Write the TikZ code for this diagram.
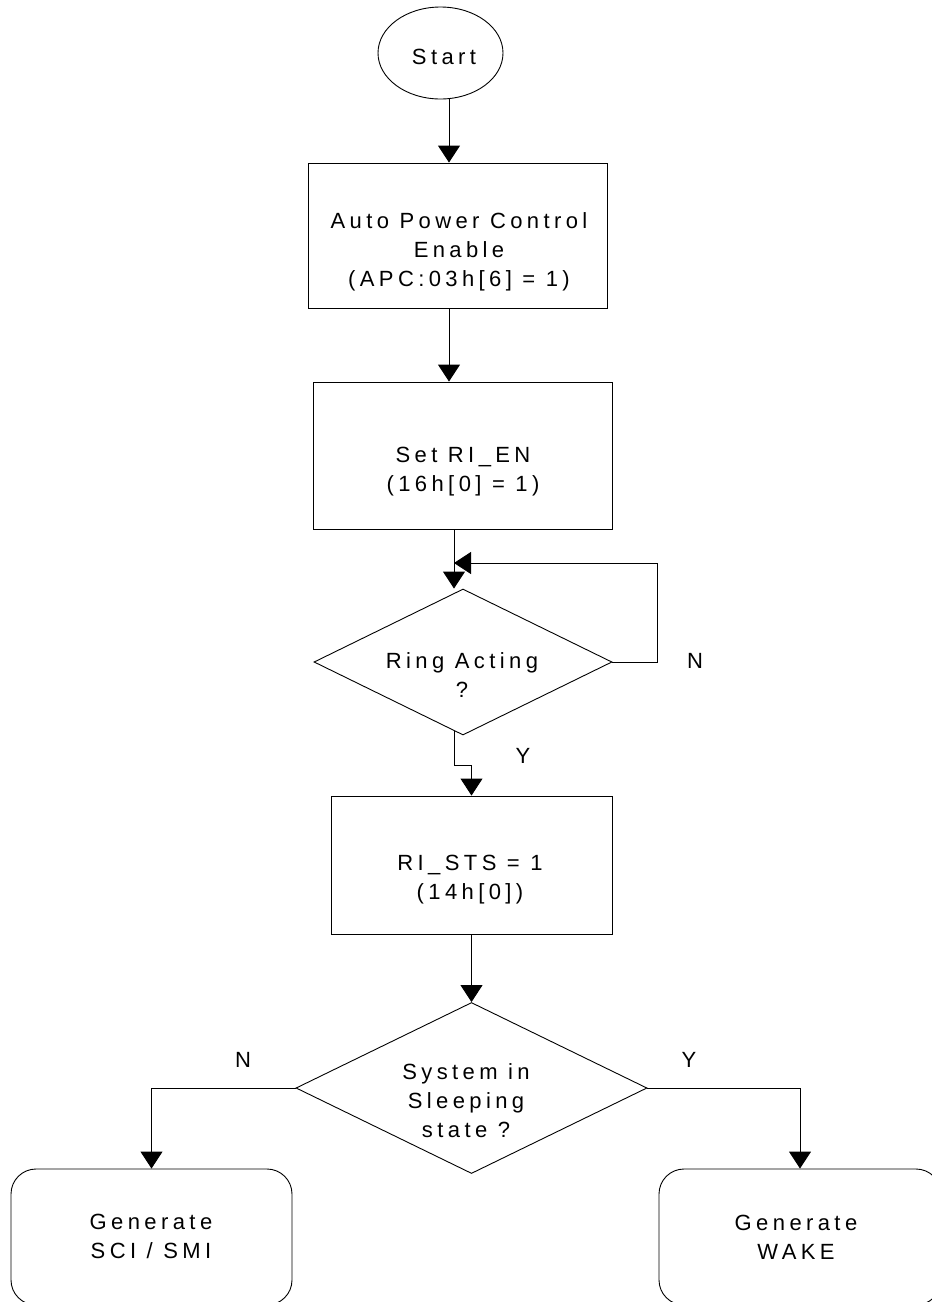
\documentclass[tikz,border=0pt]{standalone}
\usepackage{fontspec}
\setmainfont{Liberation Sans}[LetterSpace=20]
\usetikzlibrary{shapes.geometric,arrows.meta}
\begin{document}
\begin{tikzpicture}[x=1pt,y=-1pt,
  shp/.style={draw=black, line width=0.9pt, inner sep=0pt},
  rect/.style={shp, rectangle},
  rrect/.style={shp, rectangle, rounded corners=25pt},
  dia/.style={shp, diamond},
  txt/.style={align=center, font=\fontsize{22}{29}\selectfont, inner sep=0pt},
  arr/.style={draw=black, line width=0.9pt, -{Triangle[width=22pt,length=17pt]}}]
\useasboundingbox (0,0) rectangle (932,1302);
\clip (0,0) rectangle (932,1302);
\fill[white] (0,0) rectangle (932,1302);

% shapes
\node[shp, ellipse, minimum width=125pt, minimum height=92pt] (start) at (440.5,53) {};
\node[rect, minimum width=299pt, minimum height=145pt] (b1) at (457.5,235.5) {};
\node[rect, minimum width=299pt, minimum height=147pt] (b2) at (462.5,455.5) {};
\node[dia, minimum width=298pt, minimum height=146pt] (d1) at (463,662) {};
\node[rect, minimum width=281pt, minimum height=138pt] (b3) at (471.5,865) {};
\node[dia, minimum width=351pt, minimum height=171pt] (d2) at (471.5,1088) {};
\node[rrect, minimum width=281pt, minimum height=136pt] (bl) at (151.5,1237) {};
\node[rrect, minimum width=282pt, minimum height=136pt] (br) at (800,1237) {};

% texts
\node[txt] (startt) at (444,57) {Start};
\node[txt] (b1t) at (459,252) {Auto Power Control\\Enable\\(APC:03h[6] = 1)};
\node[txt] (b2t) at (463,472) {Set RI\_EN\\(16h[0] = 1)};
\node[txt] (d1t) at (462,675.5) {Ring Acting\\?};
\node[txt] (b3t) at (470,879.5) {RI\_STS = 1\\(14h[0])};
\node[txt] (d2t) at (466,1101) {System in\\Sleeping\\state ?};
\node[txt] (blt) at (151,1236) {Generate\\SCI / SMI};
\node[txt] (brt) at (796,1237) {Generate\\WAKE};

% branch labels
\node[txt] (n1) at (695,660.5) {N};
\node[txt] (y1) at (523,755.5) {Y};
\node[txt] (n2) at (243,1060) {N};
\node[txt] (y2) at (689,1060) {Y};

% connector helpers
\coordinate (l1) at (657,662);
\coordinate (l2) at (657,563);
\coordinate (l3) at (454,563);
\coordinate (yb) at (471.5,765);

% connectors
\draw[arr] ([xshift=8.5pt]start.south) -- ([xshift=-8.5pt]b1.north);
\draw[arr] ([xshift=-8.5pt]b1.south) -- ([xshift=-13.5pt]b2.north);
\draw[arr] ([xshift=-8.5pt]b2.south) -- ([xshift=-9pt]d1.north);
\draw[arr] (d1.east) -- (l1) -- (l2) -- (l3);
\draw[arr] (d1.-97.5) |- (yb) -- (b3.north);
\draw[arr] (b3.south) -- (d2.north);
\draw[arr] (d2.west) -| (bl.north);
\draw[arr] (d2.east) -| (br.north);
\end{tikzpicture}
\end{document}
